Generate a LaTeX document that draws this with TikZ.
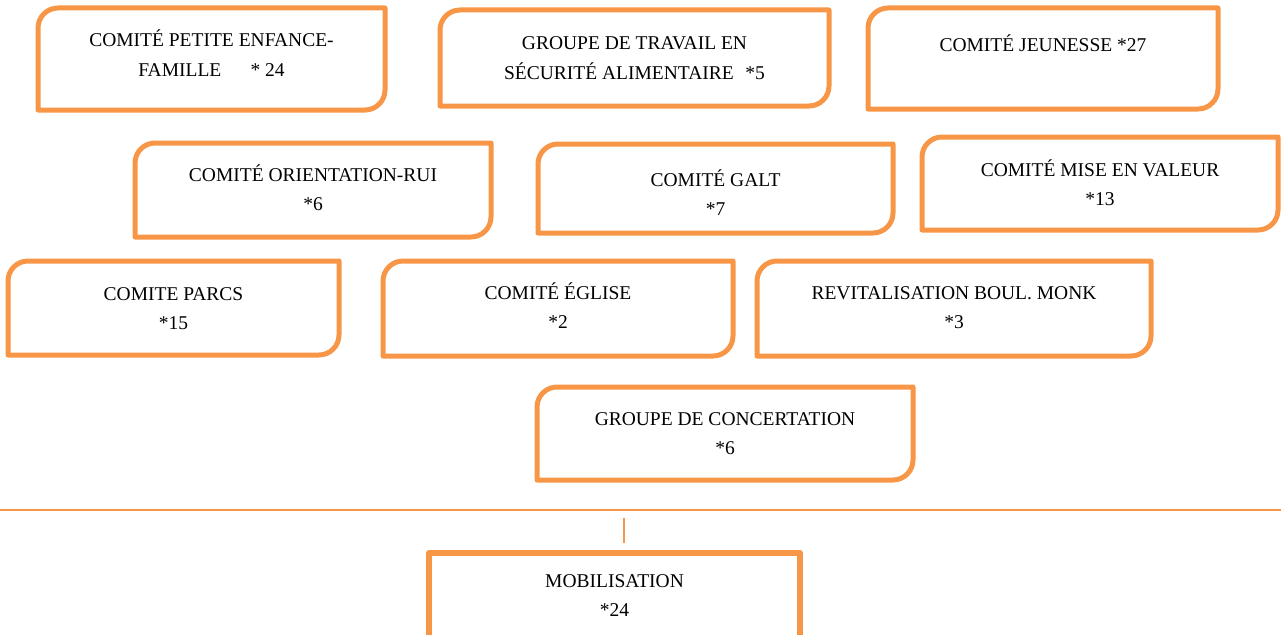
\documentclass[tikz,border=0pt]{standalone}
\usepackage{fontspec}
\setmainfont{Liberation Serif}
\usepackage{tikz}
\usetikzlibrary{positioning, calc}
\definecolor{orangeComite}{HTML}{F79646}
\tikzset{
    cadre/.style={draw=orangeComite, line width=5pt, line join=round},
    texte/.style={anchor=base, align=center, inner sep=0pt, font=\fontsize{19.5}{29}\selectfont},
    trait/.style={draw=orangeComite, line width=2pt}
}
\def\rayon{20}
\def\ctrl{9}

\begin{document}
\begin{tikzpicture}[x=1pt, y=-1pt]
    \useasboundingbox (0,0) rectangle (1281,634);
    \clip (0,0) rectangle (1281,634);

    % comites, rounded top left and bottom right
    % (\yt = baseline of the last line)
    \foreach \nom/\xa/\ya/\xb/\yb/\yt/\texte in {
        enfance/38/8/385/110/76/{COMITÉ PETITE ENFANCE-\\FAMILLE\hspace{1.5em}* 24},
        securite/440/10/829/106/79/{GROUPE DE TRAVAIL EN\\SÉCURITÉ ALIMENTAIRE\hspace{0.6em}*5},
        jeunesse/868/8/1218/109/52/{COMITÉ JEUNESSE *27},
        orientation/135/143/491/237/210/{COMITÉ ORIENTATION-RUI\\*6},
        galt/538/144/893/233/215/{COMITÉ GALT\\*7},
        valeur/922/137/1278/230/205/{COMITÉ MISE EN VALEUR\\*13},
        parcs/8/261/339/355/329/{COMITE PARCS\\*15},
        eglise/383/261/733/356/328/{COMITÉ ÉGLISE\\*2},
        monk/757/261/1151/356/328/{REVITALISATION BOUL. MONK\\*3},
        concertation/537/387/913/480/454/{GROUPE DE CONCERTATION\\*6}}
    {
        \draw[cadre]
            (\xa,\yb) -- (\xa,\ya+\rayon)
            .. controls (\xa,\ya+\ctrl) and (\xa+\ctrl,\ya) .. (\xa+\rayon,\ya)
            -- (\xb,\ya) -- (\xb,\yb-\rayon)
            .. controls (\xb,\yb-\ctrl) and (\xb-\ctrl,\yb) .. (\xb-\rayon,\yb)
            -- cycle;
        \node[texte] (\nom) at ({(\xa+\xb)/2},\yt) {\texte};
    }

    % separation
    \coordinate (sep-g) at (0,510);
    \coordinate (sep-d) at (1281,510);
    \draw[trait] (sep-g) -- (sep-d);

    \coordinate (lien-h) at (624,518);
    \coordinate (lien-b) at (624,543);
    \draw[trait, line width=1.5pt] (lien-h) -- (lien-b);

    % mobilisation, square corners
    \draw[cadre, line width=6pt] (429,660) -- (429,553) -- (800,553) -- (800,660);
    \node[texte] (mobilisation) at (614.5,616) {MOBILISATION\\*24};
\end{tikzpicture}
\end{document}
